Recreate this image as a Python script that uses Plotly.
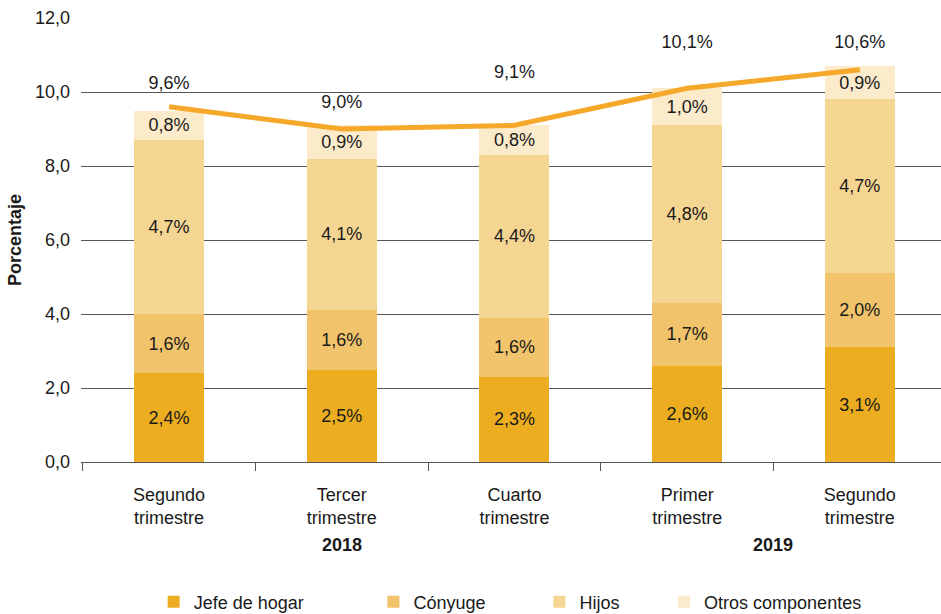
import plotly.graph_objects as go

# ---- data ----
years = ["2018", "2019"]
year_pos = [1, 3.5]
quarters = ["Segundo<br>trimestre", "Tercer<br>trimestre", "Cuarto<br>trimestre",
            "Primer<br>trimestre", "Segundo<br>trimestre"]
jefe = [2.4, 2.5, 2.3, 2.6, 3.1]
conyuge = [1.6, 1.6, 1.6, 1.7, 2.0]
hijos = [4.7, 4.1, 4.4, 4.8, 4.7]
otros = [0.8, 0.9, 0.8, 1.0, 0.9]
total = [9.6, 9.0, 9.1, 10.1, 10.6]
series_names = ["Jefe de hogar", "Cónyuge", "Hijos", "Otros componentes"]
y_ticks = [0, 2, 4, 6, 8, 10, 12]

# ---- styles / positions ----
colors = ["#ECAE20", "#F1C36A", "#F5D592", "#FBEBCB"]
line_color = "#F6A82A"
label_offset = [0.6, 0.68, 1.4, 1.2, 0.7]
legend_x = [0.0845, 0.340, 0.533, 0.678]
FONT = "Liberation Sans, Arial, Helvetica, sans-serif"

def fmt(v):
    return f"{v:.1f}".replace(".", ",") + "%"

xpos = list(range(len(quarters)))
boundaries = [i - 0.5 for i in range(len(quarters))]

fig = go.Figure()
for i, (name, vals) in enumerate(zip(series_names, [jefe, conyuge, hijos, otros])):
    lg = "legend" if i == 0 else f"legend{i+1}"
    fig.add_trace(go.Bar(
        x=xpos, y=vals, name=name, marker=dict(color=colors[i], line=dict(width=0)),
        width=0.405, text=[fmt(v) for v in vals], textposition="inside",
        insidetextanchor="middle", textangle=0,
        textfont=dict(color="#1a1a1a", size=18, family=FONT),
        legend=lg, hoverinfo="skip",
    ))

fig.add_trace(go.Scatter(
    x=xpos, y=total, mode="lines", line=dict(color=line_color, width=5),
    showlegend=False, hoverinfo="skip",
))
fig.add_trace(go.Scatter(
    x=xpos, y=[t + o for t, o in zip(total, label_offset)], mode="text",
    text=[fmt(v) for v in total], textposition="middle center",
    textfont=dict(color="#1a1a1a", size=18, family=FONT),
    showlegend=False, hoverinfo="skip",
))

leg_common = dict(orientation="h", yref="container", y=0.0195, yanchor="middle",
                  xanchor="left",
                  font=dict(size=18, family=FONT, color="#1a1a1a"),
                  bgcolor="rgba(0,0,0,0)", borderwidth=0)
legends = {}
for i in range(4):
    key = "legend" if i == 0 else f"legend{i+1}"
    legends[key] = dict(leg_common, x=legend_x[i])

annotations = [
    dict(x=xp, xref="x", y=-0.187, yref="paper", text=f"<b>{yr}</b>",
         showarrow=False, xanchor="center", yanchor="middle",
         font=dict(size=18, family=FONT, color="#1a1a1a"))
    for yr, xp in zip(years, year_pos)
]

fig.update_layout(
    width=941, height=614,
    margin=dict(l=81, r=0, t=18, b=152),
    barmode="stack",
    plot_bgcolor="white", paper_bgcolor="white",
    font=dict(family=FONT, size=18, color="#1a1a1a"),
    xaxis=dict(
        range=[-0.51, 4.47], automargin=False,
        tickvals=xpos, ticktext=quarters, ticks="",
        showline=True, linecolor="#555555", linewidth=1,
        showgrid=False, zeroline=False, ticklabelstandoff=16,
        minor=dict(tickvals=boundaries, ticks="outside", ticklen=8,
                   tickcolor="#555555", tickwidth=1, showgrid=False),
        tickfont=dict(size=18, family=FONT, color="#1a1a1a"),
    ),
    yaxis=dict(
        range=[0, 12], tickvals=y_ticks, tickformat=".1f", automargin=False,
        showgrid=True, gridcolor="#555555", gridwidth=1,
        zeroline=False, showline=False, ticks="",
        ticklabelstandoff=10,
        tickfont=dict(size=18, family=FONT, color="#1a1a1a"),
        title=dict(text="<b>Porcentaje</b>", font=dict(size=18, family=FONT, color="#1a1a1a"), standoff=8),
    ),
    separators=",.",
    annotations=annotations,
    **legends,
)

fig.write_html("out.html")
